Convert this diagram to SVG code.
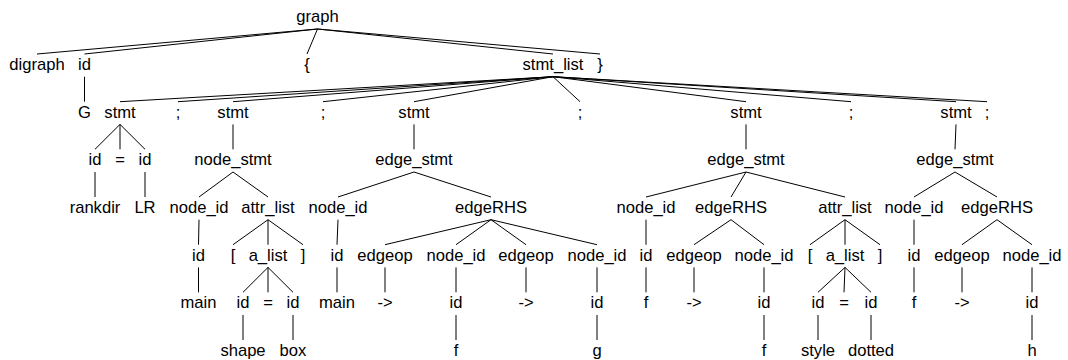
<svg xmlns="http://www.w3.org/2000/svg" width="1068" height="360" viewBox="0 0 1068 360">
<style>
text{font-family:"Liberation Sans",Arial,Helvetica,sans-serif;font-size:16.6px;text-anchor:middle;fill:#000}
.e line{stroke:#000;stroke-width:1;fill:none}
</style>
<rect width="1068" height="360" fill="#fff"/>
<g id="connectors" class="e">
<line x1="317.5" y1="29" x2="37" y2="54"/>
<line x1="317.5" y1="29" x2="84.5" y2="54"/>
<line x1="317.5" y1="29" x2="307" y2="54"/>
<line x1="317.5" y1="29" x2="553" y2="54"/>
<line x1="317.5" y1="29" x2="600" y2="54"/>
<line x1="84.5" y1="76.7" x2="84.5" y2="101.7"/>
<line x1="553" y1="76.7" x2="120" y2="101.7"/>
<line x1="553" y1="76.7" x2="178" y2="101.7"/>
<line x1="553" y1="76.7" x2="233" y2="101.7"/>
<line x1="553" y1="76.7" x2="323" y2="101.7"/>
<line x1="553" y1="76.7" x2="414" y2="101.7"/>
<line x1="553" y1="76.7" x2="580" y2="101.7"/>
<line x1="553" y1="76.7" x2="746" y2="101.7"/>
<line x1="553" y1="76.7" x2="851" y2="101.7"/>
<line x1="553" y1="76.7" x2="956" y2="101.7"/>
<line x1="553" y1="76.7" x2="987" y2="101.7"/>
<line x1="120" y1="124.4" x2="95" y2="149.3"/>
<line x1="120" y1="124.4" x2="120" y2="149.3"/>
<line x1="120" y1="124.4" x2="145" y2="149.3"/>
<line x1="233" y1="124.4" x2="233" y2="149.3"/>
<line x1="414" y1="124.4" x2="414" y2="149.3"/>
<line x1="746" y1="124.4" x2="746" y2="149.3"/>
<line x1="956" y1="124.4" x2="955" y2="149.3"/>
<line x1="95" y1="172" x2="95" y2="197"/>
<line x1="145" y1="172" x2="145" y2="197"/>
<line x1="233" y1="172" x2="199" y2="197"/>
<line x1="233" y1="172" x2="268" y2="197"/>
<line x1="414" y1="172" x2="338" y2="197"/>
<line x1="414" y1="172" x2="491" y2="197"/>
<line x1="746" y1="172" x2="646" y2="197"/>
<line x1="746" y1="172" x2="731" y2="197"/>
<line x1="746" y1="172" x2="845" y2="197"/>
<line x1="955" y1="172" x2="914" y2="197"/>
<line x1="955" y1="172" x2="997" y2="197"/>
<line x1="199" y1="219.7" x2="198.5" y2="244.7"/>
<line x1="268" y1="219.7" x2="233" y2="244.7"/>
<line x1="268" y1="219.7" x2="268" y2="244.7"/>
<line x1="268" y1="219.7" x2="303" y2="244.7"/>
<line x1="338" y1="219.7" x2="337" y2="244.7"/>
<line x1="491" y1="219.7" x2="385" y2="244.7"/>
<line x1="491" y1="219.7" x2="456" y2="244.7"/>
<line x1="491" y1="219.7" x2="526" y2="244.7"/>
<line x1="491" y1="219.7" x2="597" y2="244.7"/>
<line x1="646" y1="219.7" x2="646" y2="244.7"/>
<line x1="731" y1="219.7" x2="694" y2="244.7"/>
<line x1="731" y1="219.7" x2="764" y2="244.7"/>
<line x1="845" y1="219.7" x2="810" y2="244.7"/>
<line x1="845" y1="219.7" x2="845" y2="244.7"/>
<line x1="845" y1="219.7" x2="880" y2="244.7"/>
<line x1="914" y1="219.7" x2="914" y2="244.7"/>
<line x1="997" y1="219.7" x2="962" y2="244.7"/>
<line x1="997" y1="219.7" x2="1032" y2="244.7"/>
<line x1="198.5" y1="267.4" x2="198.5" y2="292.3"/>
<line x1="268" y1="267.4" x2="243" y2="292.3"/>
<line x1="268" y1="267.4" x2="268" y2="292.3"/>
<line x1="268" y1="267.4" x2="293" y2="292.3"/>
<line x1="337" y1="267.4" x2="337" y2="292.3"/>
<line x1="385" y1="267.4" x2="385" y2="292.3"/>
<line x1="456" y1="267.4" x2="456" y2="292.3"/>
<line x1="526" y1="267.4" x2="526" y2="292.3"/>
<line x1="597" y1="267.4" x2="597" y2="292.3"/>
<line x1="646" y1="267.4" x2="646" y2="292.3"/>
<line x1="694" y1="267.4" x2="694" y2="292.3"/>
<line x1="764" y1="267.4" x2="764" y2="292.3"/>
<line x1="845" y1="267.4" x2="818" y2="292.3"/>
<line x1="845" y1="267.4" x2="844" y2="292.3"/>
<line x1="845" y1="267.4" x2="871" y2="292.3"/>
<line x1="914" y1="267.4" x2="914" y2="292.3"/>
<line x1="962" y1="267.4" x2="962" y2="292.3"/>
<line x1="1032" y1="267.4" x2="1032" y2="292.3"/>
<line x1="243" y1="315" x2="243" y2="340"/>
<line x1="293" y1="315" x2="293" y2="340"/>
<line x1="456" y1="315" x2="456" y2="340"/>
<line x1="597" y1="315" x2="597" y2="340"/>
<line x1="764" y1="315" x2="764" y2="340"/>
<line x1="818" y1="315" x2="818" y2="340"/>
<line x1="871" y1="315" x2="871" y2="340"/>
<line x1="1032" y1="315" x2="1032" y2="340"/>
</g>
<g id="n0"><text x="317.5" y="22.3">graph</text></g>
<g id="n1"><text x="37" y="70">digraph</text></g>
<g id="n2"><text x="84.5" y="70">id</text></g>
<g id="n3"><text x="307" y="70">{</text></g>
<g id="n4"><text x="553" y="70">stmt_list</text></g>
<g id="n5"><text x="600" y="70">}</text></g>
<g id="n6"><text x="84.5" y="117.7">G</text></g>
<g id="n7"><text x="120" y="117.7">stmt</text></g>
<g id="n8"><text x="178" y="117.7">;</text></g>
<g id="n9"><text x="233" y="117.7">stmt</text></g>
<g id="n10"><text x="323" y="117.7">;</text></g>
<g id="n11"><text x="414" y="117.7">stmt</text></g>
<g id="n12"><text x="580" y="117.7">;</text></g>
<g id="n13"><text x="746" y="117.7">stmt</text></g>
<g id="n14"><text x="851" y="117.7">;</text></g>
<g id="n15"><text x="956" y="117.7">stmt</text></g>
<g id="n16"><text x="987" y="117.7">;</text></g>
<g id="n17"><text x="95" y="165.3">id</text></g>
<g id="n18"><text x="120" y="165.3">=</text></g>
<g id="n19"><text x="145" y="165.3">id</text></g>
<g id="n20"><text x="233" y="165.3">node_stmt</text></g>
<g id="n21"><text x="414" y="165.3">edge_stmt</text></g>
<g id="n22"><text x="746" y="165.3">edge_stmt</text></g>
<g id="n23"><text x="955" y="165.3">edge_stmt</text></g>
<g id="n24"><text x="95" y="213">rankdir</text></g>
<g id="n25"><text x="145" y="213">LR</text></g>
<g id="n26"><text x="199" y="213">node_id</text></g>
<g id="n27"><text x="268" y="213">attr_list</text></g>
<g id="n28"><text x="338" y="213">node_id</text></g>
<g id="n29"><text x="491" y="213">edgeRHS</text></g>
<g id="n30"><text x="646" y="213">node_id</text></g>
<g id="n31"><text x="731" y="213">edgeRHS</text></g>
<g id="n32"><text x="845" y="213">attr_list</text></g>
<g id="n33"><text x="914" y="213">node_id</text></g>
<g id="n34"><text x="997" y="213">edgeRHS</text></g>
<g id="n35"><text x="198.5" y="260.7">id</text></g>
<g id="n36"><text x="233" y="260.7">[</text></g>
<g id="n37"><text x="268" y="260.7">a_list</text></g>
<g id="n38"><text x="303" y="260.7">]</text></g>
<g id="n39"><text x="337" y="260.7">id</text></g>
<g id="n40"><text x="385" y="260.7">edgeop</text></g>
<g id="n41"><text x="456" y="260.7">node_id</text></g>
<g id="n42"><text x="526" y="260.7">edgeop</text></g>
<g id="n43"><text x="597" y="260.7">node_id</text></g>
<g id="n44"><text x="646" y="260.7">id</text></g>
<g id="n45"><text x="694" y="260.7">edgeop</text></g>
<g id="n46"><text x="764" y="260.7">node_id</text></g>
<g id="n47"><text x="810" y="260.7">[</text></g>
<g id="n48"><text x="845" y="260.7">a_list</text></g>
<g id="n49"><text x="880" y="260.7">]</text></g>
<g id="n50"><text x="914" y="260.7">id</text></g>
<g id="n51"><text x="962" y="260.7">edgeop</text></g>
<g id="n52"><text x="1032" y="260.7">node_id</text></g>
<g id="n53"><text x="198.5" y="308.3">main</text></g>
<g id="n54"><text x="243" y="308.3">id</text></g>
<g id="n55"><text x="268" y="308.3">=</text></g>
<g id="n56"><text x="293" y="308.3">id</text></g>
<g id="n57"><text x="337" y="308.3">main</text></g>
<g id="n58"><text x="385" y="308.3">-&gt;</text></g>
<g id="n59"><text x="456" y="308.3">id</text></g>
<g id="n60"><text x="526" y="308.3">-&gt;</text></g>
<g id="n61"><text x="597" y="308.3">id</text></g>
<g id="n62"><text x="646" y="308.3">f</text></g>
<g id="n63"><text x="694" y="308.3">-&gt;</text></g>
<g id="n64"><text x="764" y="308.3">id</text></g>
<g id="n65"><text x="818" y="308.3">id</text></g>
<g id="n66"><text x="844" y="308.3">=</text></g>
<g id="n67"><text x="871" y="308.3">id</text></g>
<g id="n68"><text x="914" y="308.3">f</text></g>
<g id="n69"><text x="962" y="308.3">-&gt;</text></g>
<g id="n70"><text x="1032" y="308.3">id</text></g>
<g id="n71"><text x="243" y="356">shape</text></g>
<g id="n72"><text x="293" y="356">box</text></g>
<g id="n73"><text x="456" y="356">f</text></g>
<g id="n74"><text x="597" y="356">g</text></g>
<g id="n75"><text x="764" y="356">f</text></g>
<g id="n76"><text x="818" y="356">style</text></g>
<g id="n77"><text x="871" y="356">dotted</text></g>
<g id="n78"><text x="1032" y="356">h</text></g>
</svg>
